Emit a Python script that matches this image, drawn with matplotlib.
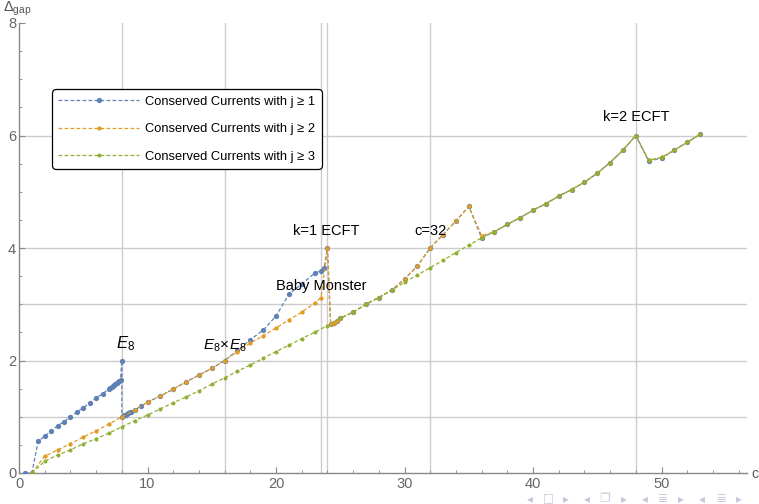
import matplotlib
matplotlib.use("Agg")
import matplotlib.pyplot as plt

plt.rcParams['font.family'] = ['Liberation Sans', 'DejaVu Sans']
plt.rcParams['mathtext.fontset'] = 'custom'
plt.rcParams['mathtext.rm'] = 'Liberation Sans'
plt.rcParams['mathtext.it'] = 'Liberation Sans:italic'

# conserved currents with j >= 1
c_j1 = [0.5, 1, 1.5, 2, 2.5, 3, 3.5, 4, 4.5, 5, 5.5, 6, 6.5, 7,
        7.1, 7.2, 7.3, 7.4, 7.5, 7.6, 7.7, 7.8, 7.9, 8, 8,
        8.1, 8.2, 8.3, 8.4, 8.5, 8.6, 8.7, 9, 9.5,
        10, 11, 12, 13, 14, 15, 16, 17, 18, 19, 20, 21, 22, 23, 23.5, 23.75, 24,
        24.25, 24.5, 24.75, 25, 26, 27, 28, 29, 30, 31, 32, 33, 34, 35, 36,
        37, 38, 39, 40, 41, 42, 43, 44, 45, 46, 47, 48, 49, 50, 51, 52, 53]
d_j1 = [0, 0, 0.57, 0.65, 0.75, 0.84, 0.91, 1.0, 1.08, 1.16, 1.25, 1.33, 1.41, 1.49,
        1.51, 1.53, 1.54, 1.56, 1.58, 1.60, 1.62, 1.64, 1.66, 2.0, 1.0,
        1.01, 1.03, 1.04, 1.05, 1.07, 1.08, 1.09, 1.12, 1.19,
        1.26, 1.37, 1.49, 1.62, 1.74, 1.86, 2.0, 2.18, 2.37, 2.54, 2.79, 3.18, 3.36, 3.55, 3.6, 3.65, 4.0,
        2.65, 2.67, 2.71, 2.75, 2.86, 3.0, 3.12, 3.25, 3.45, 3.68, 4.0, 4.24, 4.48, 4.74, 4.18,
        4.29, 4.42, 4.54, 4.67, 4.79, 4.92, 5.04, 5.17, 5.33, 5.52, 5.74, 6.0, 5.54, 5.6, 5.74, 5.88, 6.02]

# conserved currents with j >= 2
c_j2 = [1, 2, 3, 4, 5, 6, 7, 8, 9, 10, 11, 12, 13, 14, 15, 16, 17, 18, 19, 20, 21, 22, 23, 23.5, 24,
        24.25, 24.5, 24.75, 25, 26, 27, 28, 29, 30, 31, 32, 33, 34, 35, 36,
        37, 38, 39, 40, 41, 42, 43, 44, 45, 46, 47, 48, 49, 50, 51, 52, 53]
d_j2 = [0, 0.3, 0.41, 0.52, 0.64, 0.75, 0.87, 1.0, 1.12, 1.26, 1.37, 1.49, 1.62, 1.74, 1.86, 2.0,
        2.16, 2.31, 2.44, 2.58, 2.72, 2.86, 3.02, 3.12, 4.0,
        2.65, 2.67, 2.71, 2.75, 2.86, 3.0, 3.12, 3.25, 3.45, 3.68, 4.0, 4.24, 4.48, 4.74, 4.22,
        4.29, 4.42, 4.54, 4.67, 4.79, 4.92, 5.04, 5.17, 5.33, 5.52, 5.74, 6.0, 5.56, 5.61, 5.74, 5.88, 6.02]

# conserved currents with j >= 3
c_j3 = [1, 2, 3, 4, 5, 6, 7, 8, 9, 10, 11, 12, 13, 14, 15, 16, 17, 18, 19, 20, 21, 22, 23, 24,
        25, 26, 27, 28, 29, 30, 31, 32, 33, 34, 35, 36,
        37, 38, 39, 40, 41, 42, 43, 44, 45, 46, 47, 48, 49, 50, 51, 52, 53]
d_j3 = [0, 0.21, 0.32, 0.41, 0.52, 0.61, 0.71, 0.82, 0.93, 1.03, 1.14, 1.25, 1.35, 1.46, 1.58,
        1.69, 1.81, 1.92, 2.04, 2.16, 2.27, 2.39, 2.5, 2.62,
        2.75, 2.86, 3.0, 3.12, 3.25, 3.39, 3.52, 3.65, 3.78, 3.92, 4.05, 4.18,
        4.29, 4.42, 4.54, 4.67, 4.79, 4.92, 5.04, 5.17, 5.33, 5.52, 5.74, 6.0, 5.56, 5.61, 5.74, 5.88, 6.02]

labels = ["Conserved Currents with j \u2265 1",
          "Conserved Currents with j \u2265 2",
          "Conserved Currents with j \u2265 3"]

grid_c = [8, 16, 23.5, 24, 32, 48]
grid_d = [1, 2, 3, 4, 6]

# (text, c, delta, size)
notes = [(r"$E_{\mathrm{8}}$", 8.3, 2.3, 12),
         (r"$E_{\mathrm{8}}\!\times\!E_{\mathrm{8}}$", 16.0, 2.27, 11),
         ("k=1 ECFT", 23.9, 4.3, 10.5),
         ("Baby Monster", 23.5, 3.32, 10.5),
         ("c=32", 32.0, 4.3, 10.5),
         ("k=2 ECFT", 48.0, 6.33, 10.5)]

fig = plt.figure(figsize=(7.59, 5.04), dpi=100)
ax = fig.add_axes([19 / 759, 31 / 504, 728 / 759, 450 / 504])

for g in grid_c:
    ax.axvline(g, color="#cccccc", lw=1.0, zorder=0)
for g in grid_d:
    ax.axhline(g, color="#cccccc", lw=1.0, zorder=0)

dash = (0, (3.0, 1.8))
ax.plot(c_j1, d_j1, color="#5e81b5", ls=dash, lw=0.9, marker="o", ms=3.8,
        mew=0, label=labels[0], zorder=3)
ax.plot(c_j2, d_j2, color="#e19c24", ls=dash, lw=0.9, marker="o", ms=3.1,
        mew=0, label=labels[1], zorder=4)
ax.plot(c_j3, d_j3, color="#8fb032", ls=dash, lw=0.9, marker="o", ms=2.9,
        mew=0, label=labels[2], zorder=5)

for txt, x, y, fs in notes:
    ax.text(x, y, txt, ha="center", va="center", fontsize=fs, color="black", zorder=6)

ax.set_xlim(0, 56.65)
ax.set_ylim(0, 8)
ax.set_xticks([0, 10, 20, 30, 40, 50])
ax.set_xticks(range(0, 57, 2), minor=True)
ax.set_yticks([0, 2, 4, 6, 8])
ax.set_yticks([0.5 * i for i in range(17)], minor=True)
ax.tick_params(which="both", direction="in", colors="#888888", labelcolor="#666666",
               labelsize=10.5)
ax.tick_params(which="major", length=4.5, width=0.8)
ax.tick_params(which="minor", length=2.5, width=0.6)
ax.tick_params(axis="x", pad=3)
ax.tick_params(axis="y", pad=2)
for s in ["top", "right"]:
    ax.spines[s].set_visible(False)
for s in ["left", "bottom"]:
    ax.spines[s].set_color("#888888")
    ax.spines[s].set_linewidth(1.0)
ax.patch.set_alpha(0)

fig.text(755 / 759, 1 - 474 / 504, "c", ha="center", va="center", fontsize=10, color="#555555")
fig.text(3 / 759, 1 - 9 / 504, r"$\mathrm{\Delta}_{\mathrm{gap}}$", ha="left", va="center",
         fontsize=10.5, color="#555555")

leg = ax.legend(loc="upper left", bbox_to_anchor=(52 / 759, 1 - 89 / 504),
                bbox_transform=fig.transFigure, fontsize=9.3, numpoints=1,
                handlelength=6.2, handletextpad=0.5, labelspacing=1.2,
                borderpad=0.5, borderaxespad=0, fancybox=True, framealpha=1,
                edgecolor="black")
leg.get_frame().set_linewidth(0.9)
leg.get_frame().set_boxstyle("round", pad=0, rounding_size=0.3)
leg.set_zorder(10)

# beamer navigation symbols
nav = [("\u25c2", 530), ("\u25a1", 548), ("\u25b8", 566),
       ("\u25c2", 587), ("\u2750", 604), ("\u25b8", 624),
       ("\u25c2", 645), ("\u2263", 663), ("\u25b8", 681),
       ("\u25c2", 702), ("\u2263", 722), ("\u25b8", 739)]
for sym, px in nav:
    fig.text(px / 759, 1 - 499 / 504, sym, ha="center", va="center", fontsize=8.5,
             color="#c5c8dc", family=["DejaVu Sans", "Noto Sans"])

fig.savefig("out.png", dpi=100)
